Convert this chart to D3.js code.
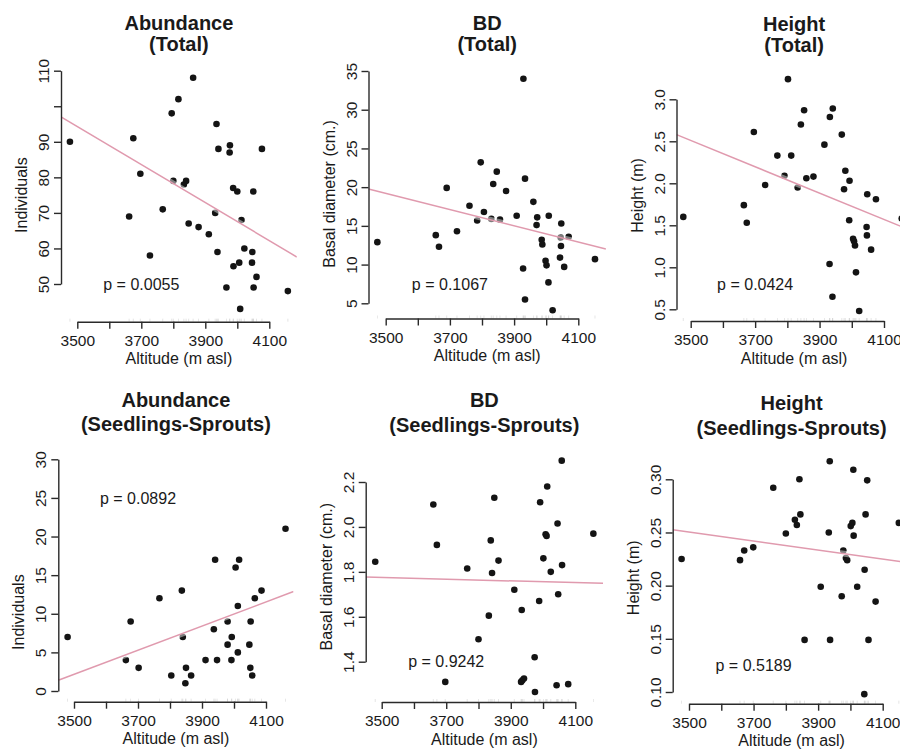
<!DOCTYPE html>
<html>
<head>
<meta charset="utf-8">
<script src="https://cdnjs.cloudflare.com/ajax/libs/d3/7.8.5/d3.min.js"></script>
<style>
  body { margin: 0; background: #fff; }
  svg { font-family: "Liberation Sans", Arial, Helvetica, sans-serif; }
</style>
</head>
<body>
<div id="canvas"></div>
<script>
// x axis (altitude) ticks, shared by all panels
var xTicks = [3500, 3600, 3700, 3800, 3900, 4000, 4100];
var xTickLabels = ["3500", "", "3700", "", "3900", "", "4100"];

// Abundance (Total)
var abundTotalAlt = [3477, 3675, 3662, 3697, 3727, 3767, 3795, 3800, 3816, 3833, 3840, 3848, 3862, 3879, 3911, 3935, 3931, 3938, 3941, 3966, 3977, 3976, 3988, 3987, 4000, 4006, 4013, 4009, 4022, 4047, 4050, 4046, 4060, 4051, 4077, 4158];
var abundTotal = [90, 91, 69, 81, 58, 71, 98, 79, 102, 78, 79, 67, 108, 66, 64, 95, 70, 59, 88, 49, 89, 87, 55, 77, 76, 56, 68, 43, 60, 59, 76, 56, 52, 49, 88, 48];
var abundTotalFit = [94.3, 62.2]; // fitted value at 3500 and 4100
var abundTotalTicks = [50, 60, 70, 80, 90, 100, 110];
var abundTotalLabels = ["50", "60", "70", "80", "90", "", "110"];

// BD (Total)
var bdTotalAlt = [3474, 3656, 3666, 3690, 3722, 3761, 3785, 3796, 3806, 3835, 3846, 3829, 3856, 3875, 3908, 3929, 3934, 3928, 3934, 3960, 3972, 3970, 3986, 3988, 3998, 4001, 4007, 4008, 4020, 4045, 4047, 4046, 4043, 4056, 4070, 4152];
var bdTotal = [12.9, 13.8, 12.3, 19.9, 14.3, 17.6, 15.7, 23.2, 16.8, 20.4, 22.0, 15.9, 15.8, 19.5, 16.3, 34.0, 21.1, 9.5, 5.5, 18.1, 16.1, 15.1, 13.2, 12.6, 10.5, 9.9, 7.7, 16.3, 4.1, 13.5, 15.3, 12.4, 10.9, 9.7, 13.6, 10.7];
var bdTotalFit = [19.2, 12.9];
var bdTotalTicks = [5, 10, 15, 20, 25, 30, 35];
var bdTotalLabels = ["5", "10", "15", "20", "25", "30", "35"];

// Height (Total)
var hTotalAlt = [3477, 3665, 3674, 3696, 3731, 3769, 3791, 3802, 3812, 3832, 3842, 3852, 3859, 3881, 3915, 3931, 3932, 3941, 3940, 3969, 3980, 3976, 3993, 3992, 4004, 4010, 4013, 4023, 4048, 4046, 4047, 4060, 4075, 4007, 4155];
var hTotal = [1.60, 1.74, 1.53, 2.61, 1.98, 2.33, 2.09, 3.24, 2.33, 1.95, 2.70, 2.87, 2.06, 2.08, 2.46, 1.04, 2.79, 2.89, 0.65, 2.58, 2.15, 1.93, 2.03, 1.56, 1.34, 1.26, 0.94, 0.48, 1.87, 1.48, 1.38, 1.21, 1.81, 1.31, 1.58];
var hTotalFit = [2.51, 1.57];
var hTotalTicks = [0.5, 1.0, 1.5, 2.0, 2.5, 3.0];
var hTotalLabels = ["0.5", "1.0", "1.5", "2.0", "2.5", "3.0"];

// Abundance (Seedlings-Sprouts)
var abundSeedAlt = [3480, 3662, 3677, 3702, 3767, 3804, 3837, 3840, 3850, 3848, 3866, 3911, 3941, 3937, 3947, 3980, 3980, 3993, 3992, 4005, 4016, 4012, 4012, 4052, 4048, 4051, 4057, 4065, 4086, 4161];
var abundSeed = [7, 4, 9, 3, 12, 2, 13, 7, 3, 1, 2, 4, 17, 8, 4, 9, 6, 7, 4, 16, 17, 11, 5, 9, 6, 3, 2, 12, 13, 21];
var abundSeedFit = [2.15, 11.53];
var abundSeedTicks = [0, 5, 10, 15, 20, 25, 30];
var abundSeedLabels = ["0", "5", "10", "15", "20", "25", "30"];

// BD (Seedlings-Sprouts)
var bdSeedAlt = [3480, 3660, 3671, 3697, 3765, 3800, 3832, 3838, 3842, 3849, 3862, 3911, 3932, 3936, 3941, 3934, 3974, 3975, 3988, 3991, 4001, 4008, 4011, 4013, 4024, 4045, 4047, 4042, 4059, 4058, 4078, 4156];
var bdSeed = [1.845, 2.10, 1.92, 1.31, 1.815, 1.50, 1.605, 1.94, 1.795, 2.13, 1.85, 1.72, 1.31, 1.317, 1.325, 1.63, 1.42, 1.265, 1.67, 2.11, 1.86, 1.967, 1.96, 2.18, 1.80, 2.015, 1.70, 1.295, 1.83, 2.295, 1.30, 1.97];
var bdSeedFit = [1.775, 1.752];
var bdSeedTicks = [1.4, 1.6, 1.8, 2.0, 2.2];
var bdSeedLabels = ["1.4", "1.6", "1.8", "2.0", "2.2"];

// Height (Seedlings-Sprouts)
var hSeedAlt = [3477, 3658, 3671, 3699, 3761, 3800, 3828, 3834, 3845, 3842, 3858, 3908, 3933, 3936, 3937, 3973, 3978, 3986, 3990, 4001, 4006, 4009, 4010, 4021, 4044, 4047, 4052, 4056, 4043, 4078, 4150];
var hSeed = [0.225, 0.224, 0.233, 0.236, 0.292, 0.249, 0.262, 0.257, 0.267, 0.300, 0.149, 0.199, 0.250, 0.317, 0.149, 0.190, 0.233, 0.226, 0.224, 0.256, 0.259, 0.309, 0.247, 0.199, 0.215, 0.267, 0.299, 0.149, 0.098, 0.185, 0.259];
var hSeedFit = [0.2504, 0.2249];
var hSeedTicks = [0.10, 0.15, 0.20, 0.25, 0.30];
var hSeedLabels = ["0.10", "0.15", "0.20", "0.25", "0.30"];

var width = 900, height = 752;
var lineColor = "#e09aae";

var svg = d3.select("#canvas").append("svg")
  .attr("width", width)
  .attr("height", height);

// panel layout (pixel positions measured on the figure)
var panels = [
  { title: ["Abundance", "(Total)"], yTitle: "Individuals", alt: abundTotalAlt, val: abundTotal,
    fit: abundTotalFit, yTicks: abundTotalTicks, yLabels: abundTotalLabels, p: "p = 0.0055", pAt: [3700, 50],
    x3500: 77.3, x4100: 269.3, yAxisX: 61, xAxisY: 321.7, yLoPx: 284, yHiPx: 70.7, titleY: [30, 51] },
  { title: ["BD", "(Total)"], yTitle: "Basal diameter (cm.)", alt: bdTotalAlt, val: bdTotal,
    fit: bdTotalFit, yTicks: bdTotalTicks, yLabels: bdTotalLabels, p: "p = 0.1067", pAt: [3700, 7.5],
    x3500: 385.7, x4100: 578.3, yAxisX: 368.5, xAxisY: 318.5, yLoPx: 303.3, yHiPx: 71, titleY: [30, 51] },
  { title: ["Height", "(Total)"], yTitle: "Height (m)", alt: hTotalAlt, val: hTotal,
    fit: hTotalFit, yTicks: hTotalTicks, yLabels: hTotalLabels, p: "p = 0.0424", pAt: [3700, 0.8],
    x3500: 690.7, x4100: 884, yAxisX: 676.5, xAxisY: 321, yLoPx: 309.3, yHiPx: 99.3, titleY: [31, 52] },
  { title: ["Abundance", "(Seedlings-Sprouts)"], yTitle: "Individuals", alt: abundSeedAlt, val: abundSeed,
    fit: abundSeedFit, yTicks: abundSeedTicks, yLabels: abundSeedLabels, p: "p = 0.0892", pAt: [3700, 25],
    x3500: 74, x4100: 266, yAxisX: 58.3, xAxisY: 701.7, yLoPx: 691, yHiPx: 459.3, titleY: [407, 431] },
  { title: ["BD", "(Seedlings-Sprouts)"], yTitle: "Basal diameter (cm.)", alt: bdSeedAlt, val: bdSeed,
    fit: bdSeedFit, yTicks: bdSeedTicks, yLabels: bdSeedLabels, p: "p = 0.9242", pAt: [3700, 1.4],
    x3500: 381.7, x4100: 575.3, yAxisX: 365.7, xAxisY: 702, yLoPx: 661.7, yHiPx: 482, titleY: [407, 432] },
  { title: ["Height", "(Seedlings-Sprouts)"], yTitle: "Height (m)", alt: hSeedAlt, val: hSeed,
    fit: hSeedFit, yTicks: hSeedTicks, yLabels: hSeedLabels, p: "p = 0.5189", pAt: [3700, 0.125],
    x3500: 689, x4100: 882.7, yAxisX: 672.7, xAxisY: 703.7, yLoPx: 692, yHiPx: 479.3, titleY: [410, 435] }
];

function drawPanel(p, i) {
  var g = svg.append("g");
  var x = d3.scaleLinear().domain([3500, 4100]).range([p.x3500, p.x4100]);
  var yt = p.yTicks;
  var y = d3.scaleLinear().domain([yt[0], yt[yt.length - 1]]).range([p.yLoPx, p.yHiPx]);

  // plot region like R: data range plus 4%
  var right = x(4186);
  var ymin = d3.min(p.val), ymax = d3.max(p.val);
  var top = y(ymax + 0.04 * (ymax - ymin));
  var cx = (p.yAxisX + right) / 2;
  var cy = (top + p.xAxisY) / 2;

  svg.append("clipPath").attr("id", "clip" + i)
    .append("rect")
    .attr("x", p.yAxisX).attr("y", top - 20)
    .attr("width", right - p.yAxisX).attr("height", p.xAxisY - top + 20);

  // titles
  g.selectAll(".title")
    .data(p.title)
    .enter()
    .append("text")
    .attr("x", cx)
    .attr("y", (d, k) => p.titleY[k])
    .attr("text-anchor", "middle")
    .attr("font-size", "20px")
    .attr("font-weight", "bold")
    .attr("fill", "#1a1a1a")
    .text((d) => d);

  // rug along the x axis
  g.selectAll(".rug")
    .data(p.alt)
    .enter()
    .append("line")
    .attr("x1", (d) => x(d)).attr("x2", (d) => x(d))
    .attr("y1", p.xAxisY).attr("y2", p.xAxisY - 3)
    .attr("stroke", "#999")
    .attr("stroke-width", 0.7)
    .attr("opacity", 0.35);

  // points
  g.selectAll(".pt")
    .data(p.alt)
    .enter()
    .append("circle")
    .attr("cx", (d) => x(d))
    .attr("cy", (d, k) => y(p.val[k]))
    .attr("r", 3.3)
    .attr("fill", "#141414");

  // regression line over the plot region
  var slope = (p.fit[1] - p.fit[0]) / 600;
  var x0 = x.invert(p.yAxisX), x1 = 4186;
  var seg = [[x0, p.fit[0] + slope * (x0 - 3500)], [x1, p.fit[0] + slope * (x1 - 3500)]];
  var line = d3.line().x((d) => x(d[0])).y((d) => y(d[1]));
  g.append("path")
    .attr("d", line(seg))
    .attr("clip-path", "url(#clip" + i + ")")
    .attr("fill", "none")
    .attr("stroke", "#fff")
    .attr("stroke-opacity", 0.45)
    .attr("stroke-width", 6);
  g.append("path")
    .attr("d", line(seg))
    .attr("clip-path", "url(#clip" + i + ")")
    .attr("fill", "none")
    .attr("stroke", lineColor)
    .attr("stroke-width", 1.5);

  // x axis
  var xa = g.append("g")
    .attr("transform", "translate(0," + p.xAxisY + ")")
    .call(d3.axisBottom(x).tickValues(xTicks)
      .tickFormat((d, k) => xTickLabels[k]).tickSize(7).tickSizeOuter(0));
  xa.attr("font-size", null).attr("font-family", null);
  xa.selectAll("path, line").attr("stroke", "#2a2a2a").attr("stroke-width", 1.4);
  xa.selectAll("text")
    .attr("y", 24).attr("dy", 0)
    .attr("font-size", "15.5px")
    .attr("fill", "#1a1a1a");

  // y axis, labels parallel to the axis
  var ya = g.append("g")
    .attr("transform", "translate(" + p.yAxisX + ",0)")
    .call(d3.axisLeft(y).tickValues(yt)
      .tickFormat((d, k) => p.yLabels[k]).tickSize(7).tickSizeOuter(0));
  ya.attr("font-size", null).attr("font-family", null);
  ya.selectAll("path, line").attr("stroke", "#2a2a2a").attr("stroke-width", 1.4);
  ya.selectAll("text")
    .attr("x", 0).attr("dy", 0)
    .attr("transform", "translate(-12,0) rotate(-90)")
    .attr("text-anchor", "middle")
    .attr("font-size", "15.5px")
    .attr("fill", "#1a1a1a");

  // axis titles
  g.append("text")
    .attr("x", cx)
    .attr("y", p.xAxisY + 42.5)
    .attr("text-anchor", "middle")
    .attr("font-size", "16px")
    .attr("fill", "#1a1a1a")
    .text("Altitude (m asl)");

  g.append("text")
    .attr("transform", "translate(" + (p.yAxisX - 34) + "," + cy + ") rotate(-90)")
    .attr("text-anchor", "middle")
    .attr("font-size", "16px")
    .attr("fill", "#1a1a1a")
    .text(p.yTitle);

  // p value
  g.append("text")
    .attr("x", x(p.pAt[0]))
    .attr("y", y(p.pAt[1]))
    .attr("dy", "0.35em")
    .attr("text-anchor", "middle")
    .attr("font-size", "16px")
    .attr("fill", "#1a1a1a")
    .text(p.p);
}

panels.forEach(drawPanel);
</script>
</body>
</html>
